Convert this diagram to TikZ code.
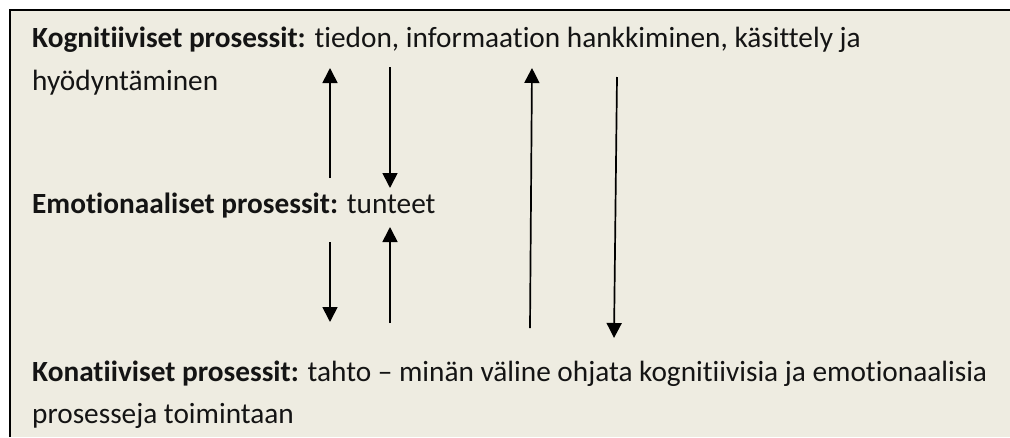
\documentclass[tikz,border=0pt]{standalone}
\usepackage{fontspec}
\setmainfont{Carlito}[Ligatures={NoCommon}]
\usetikzlibrary{arrows.meta}
\definecolor{bgc}{HTML}{EEECE1}
\definecolor{ink}{HTML}{141414}
\begin{document}
\begin{tikzpicture}[x=1pt,y=-1pt,
  txt/.style={anchor=base west, inner sep=0pt, font=\fontsize{29.3}{34}\selectfont, text=ink},
  arr/.style={line width=1.7pt, draw=black, -{Triangle[width=15pt,length=15pt]}}]
\useasboundingbox (0,0) rectangle (1010,437);
\fill[bgc] (10,10) rectangle (1010,437);
\draw[line width=2pt] (10,437) -- (10,10) -- (1010,10);
\node[txt] (k1) at (32,47) {\textbf{Kognitiiviset prosessit:} tiedon, informaation hankkiminen, käsittely ja};
\node[txt] (k2) at (32,90) {hyödyntäminen};
\node[txt] (em) at (32,213) {\textbf{Emotionaaliset prosessit:} tunteet};
\node[txt] (c1) at (32,381) {\textbf{Konatiiviset prosessit:} tahto – minän väline ohjata kognitiivisia ja emotionaalisia};
\node[txt] (c2) at (32,423) {prosesseja toimintaan};
\coordinate (a1s) at (330,178); \coordinate (a1e) at (330,68);
\coordinate (a2s) at (390,67);  \coordinate (a2e) at (390,188);
\coordinate (a3s) at (330,242); \coordinate (a3e) at (330,322);
\coordinate (a4s) at (390,323); \coordinate (a4e) at (390,227);
\coordinate (a5s) at (530,328); \coordinate (a5e) at (532,68);
\coordinate (a6s) at (617,77);  \coordinate (a6e) at (614,338);
\draw[arr] (a1s) -- (a1e);
\draw[arr] (a2s) -- (a2e);
\draw[arr] (a3s) -- (a3e);
\draw[arr] (a4s) -- (a4e);
\draw[arr] (a5s) -- (a5e);
\draw[arr] (a6s) -- (a6e);
\end{tikzpicture}
\end{document}
